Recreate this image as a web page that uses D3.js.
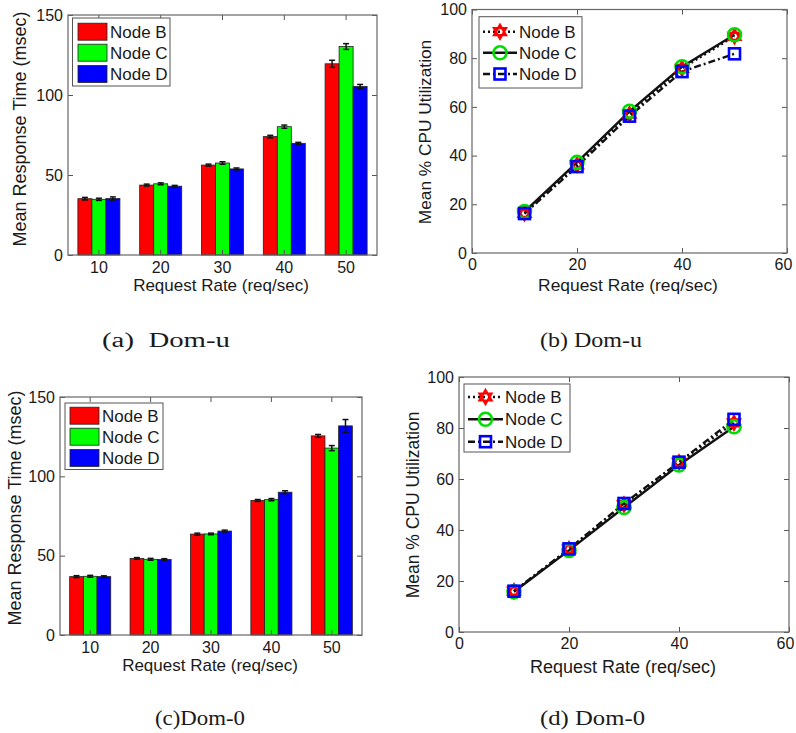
<!DOCTYPE html>
<html>
<head>
<meta charset="utf-8">
<script src="https://cdn.jsdelivr.net/npm/d3@7"></script>
<style>
  body { margin: 0; background: #fff; }
  text { font-family: "Liberation Sans", Arial, sans-serif; fill: #1a1a1a; }
  .cap { font-family: "Liberation Serif", "Times New Roman", serif; white-space: pre; }
</style>
</head>
<body>
<div id="chart"></div>
<script>
const rates = [10, 20, 30, 40, 50];
const nodes = ["Node B", "Node C", "Node D"];

// (a) Dom-u mean response time (msec)
const respDomU_B = [35.2, 43.7, 56.2, 74.0, 119.5];
const respDomU_C = [34.8, 44.5, 57.5, 80.2, 130.3];
const respDomU_D = [35.3, 43.0, 53.8, 69.8, 105.3];
const errDomU_B = [0.8, 0.6, 0.6, 0.8, 2.2];
const errDomU_C = [0.7, 0.6, 0.8, 1.0, 1.8];
const errDomU_D = [1.0, 0.5, 0.6, 0.6, 1.3];

// (b) Dom-u mean % CPU
const cpuDomU_B = [16.3, 36.2, 57.0, 75.8, 89.0];
const cpuDomU_C = [17.0, 37.2, 58.2, 76.5, 89.6];
const cpuDomU_D = [16.2, 35.5, 56.2, 74.5, 81.8];

// (c) Dom-0 mean response time (msec)
const respDom0_B = [36.8, 48.3, 63.6, 84.8, 125.5];
const respDom0_C = [37.0, 47.7, 63.7, 85.3, 117.8];
const respDom0_D = [36.8, 47.6, 65.5, 90.0, 131.8];
const errDom0_B = [0.6, 0.5, 0.6, 0.6, 0.9];
const errDom0_C = [0.6, 0.6, 0.5, 0.7, 1.6];
const errDom0_D = [0.5, 0.5, 0.6, 0.9, 4.0];

// (d) Dom-0 mean % CPU
const cpuDom0_B = [16.0, 32.5, 50.0, 66.5, 82.0];
const cpuDom0_C = [15.8, 32.0, 48.8, 65.5, 80.5];
const cpuDom0_D = [16.0, 32.6, 50.4, 66.6, 83.4];

const respTicks = [0, 50, 100, 150];
const cpuTicks = [0, 20, 40, 60, 80, 100];
const rateTicks = [0, 20, 40, 60];

const barColors = ["#ff0000", "#00ff00", "#0000ff"];
const markColors = ["#ff0000", "#00dd00", "#0000ff"];
const dashes = ["2,3", null, "7,3,2,3"];

const width = 796, height = 733;
const svg = d3.select("#chart").append("svg")
  .attr("width", width).attr("height", height)
  .style("background", "#fff");

function frame(g, box, x, y, xTicks, yTicks, xPad) {
  const bottom = d3.axisBottom(x).tickSize(-5).tickPadding(xPad);
  const left = d3.axisLeft(y).tickValues(yTicks).tickSize(-5).tickPadding(5);
  if (xTicks) bottom.tickValues(xTicks);
  const bx = g.append("g").attr("transform", `translate(0,${box.y1})`).call(bottom);
  g.append("g").attr("transform", `translate(${box.x0},0)`).call(left);
  const top = d3.axisTop(x).tickSize(-5).tickFormat("");
  if (xTicks) top.tickValues(xTicks);
  g.append("g").attr("transform", `translate(0,${box.y0})`).call(top);
  g.append("g").attr("transform", `translate(${box.x1},0)`)
    .call(d3.axisRight(y).tickValues(yTicks).tickSize(-5).tickFormat(""));
  g.selectAll(".domain").remove();
  g.selectAll(".tick line").attr("stroke", "#555");
  g.selectAll(".tick text").style("font-size", "16px").attr("fill", "#1a1a1a");
  // keep a label sitting on the page's right edge inside the window
  if (box.x1 > 780) {
    const last = bx.selectAll(".tick").nodes().slice(-1)[0];
    d3.select(last).select("text").attr("text-anchor", "end").attr("dx", "0.3em");
  }
}

function labels(g, box, xl, yl) {
  g.append("text").attr("x", xl.x).attr("y", xl.y)
    .attr("text-anchor", "middle").style("font-size", xl.size + "px")
    .text("Request Rate (req/sec)");
  g.append("text").attr("transform", `translate(${yl.x},${yl.y}) rotate(-90)`)
    .attr("text-anchor", "middle").attr("dy", "0.35em").style("font-size", yl.size + "px")
    .text(yl.text);
  g.append("rect").attr("x", box.x0).attr("y", box.y0)
    .attr("width", box.x1 - box.x0).attr("height", box.y1 - box.y0)
    .attr("fill", "none").attr("stroke", "#666").attr("stroke-width", 1.2);
}

function caption(cap) {
  svg.append("text").attr("class", "cap")
    .attr("x", cap.x).attr("y", cap.y)
    .attr("textLength", cap.w).attr("lengthAdjust", "spacingAndGlyphs")
    .style("font-size", "20px").text(cap.text);
}

function barPanel(box, series, errs, leg, xl, yl, cap) {
  const g = svg.append("g");
  const x = d3.scaleBand().domain(rates).range([box.x0, box.x1])
    .paddingInner(0.32).paddingOuter(0.16);
  const sub = d3.scaleBand().domain(nodes).range([0, x.bandwidth()]);
  const y = d3.scaleLinear().domain([0, 150]).range([box.y1, box.y0]);

  nodes.forEach((n, i) => {
    const rows = rates.map((r, j) => ({ r, v: series[i][j], e: errs[i][j] }));
    const s = g.append("g");
    s.selectAll("rect").data(rows).join("rect")
      .attr("x", d => x(d.r) + sub(n))
      .attr("y", d => y(d.v))
      .attr("width", sub.bandwidth())
      .attr("height", d => y(0) - y(d.v))
      .attr("fill", barColors[i]).attr("stroke", "#222").attr("stroke-width", 0.8);
    const eb = s.selectAll("g.err").data(rows).join("g").attr("class", "err")
      .attr("transform", d => `translate(${x(d.r) + sub(n) + sub.bandwidth() / 2},0)`);
    eb.append("line").attr("y1", d => y(d.v - d.e)).attr("y2", d => y(d.v + d.e))
      .attr("stroke", "#111").attr("stroke-width", 1.5);
    eb.append("line").attr("x1", -3).attr("x2", 3)
      .attr("y1", d => y(d.v + d.e)).attr("y2", d => y(d.v + d.e))
      .attr("stroke", "#111").attr("stroke-width", 1.5);
    eb.append("line").attr("x1", -3).attr("x2", 3)
      .attr("y1", d => y(d.v - d.e)).attr("y2", d => y(d.v - d.e))
      .attr("stroke", "#111").attr("stroke-width", 1.5);
  });

  frame(g, box, x, y, null, respTicks, 7);
  labels(g, box, xl, yl);

  // legend
  const lg = g.append("g");
  lg.append("rect").attr("x", leg.x0).attr("y", leg.y0)
    .attr("width", leg.x1 - leg.x0).attr("height", leg.y1 - leg.y0)
    .attr("fill", "#fff").attr("stroke", "#555");
  nodes.forEach((n, i) => {
    const cy = leg.rows[i];
    lg.append("rect").attr("x", leg.px).attr("y", cy - 8.5)
      .attr("width", 29).attr("height", 17)
      .attr("fill", barColors[i]).attr("stroke", "#222").attr("stroke-width", 0.8);
    lg.append("text").attr("x", leg.px + 32).attr("y", cy).attr("dy", "0.36em")
      .style("font-size", "17px").text(n);
  });
  caption(cap);
}

function hexagram(r) {
  const pts = k => d3.range(3).map(j => {
    const a = -Math.PI / 2 + k * Math.PI / 3 + j * 2 * Math.PI / 3;
    return [r * Math.cos(a), r * Math.sin(a)];
  });
  const p = arr => "M" + arr.map(q => q.join(",")).join("L") + "Z";
  return p(pts(0)) + p(pts(1));
}

function marker(sel, i) {
  if (i === 0) {
    sel.append("path").attr("d", hexagram(7))
      .attr("fill", "none").attr("stroke", markColors[0]).attr("stroke-width", 2.2);
  } else if (i === 1) {
    sel.append("circle").attr("r", 6.5)
      .attr("fill", "none").attr("stroke", markColors[1]).attr("stroke-width", 2.6);
  } else {
    sel.append("rect").attr("x", -5.5).attr("y", -5.5).attr("width", 11).attr("height", 11)
      .attr("fill", "none").attr("stroke", markColors[2]).attr("stroke-width", 2.6);
  }
}

function linePanel(box, series, leg, xl, yl, cap) {
  const g = svg.append("g");
  const x = d3.scaleLinear().domain([0, 60]).range([box.x0, box.x1]);
  const y = d3.scaleLinear().domain([0, 100]).range([box.y1, box.y0]);
  const line = d3.line().x(d => x(d.r)).y(d => y(d.v));

  nodes.forEach((n, i) => {
    const rows = rates.map((r, j) => ({ r, v: series[i][j] }));
    g.append("path").datum(rows).attr("d", line)
      .attr("fill", "none").attr("stroke", "#111").attr("stroke-width", 2.4)
      .attr("stroke-dasharray", dashes[i]);
  });
  nodes.forEach((n, i) => {
    const rows = rates.map((r, j) => ({ r, v: series[i][j] }));
    g.append("g").selectAll("g").data(rows).join("g")
      .attr("transform", d => `translate(${x(d.r)},${y(d.v)})`)
      .each(function () { marker(d3.select(this), i); });
  });

  frame(g, box, x, y, rateTicks, cpuTicks, 6);
  labels(g, box, xl, yl);

  const lg = g.append("g");
  lg.append("rect").attr("x", leg.x0).attr("y", leg.y0)
    .attr("width", leg.x1 - leg.x0).attr("height", leg.y1 - leg.y0)
    .attr("fill", "#fff").attr("stroke", "#555");
  nodes.forEach((n, i) => {
    const cy = leg.rows[i];
    lg.append("line").attr("x1", leg.lx0).attr("x2", leg.lx1).attr("y1", cy).attr("y2", cy)
      .attr("stroke", "#111").attr("stroke-width", 2.4).attr("stroke-dasharray", dashes[i]);
    marker(lg.append("g").attr("transform", `translate(${(leg.lx0 + leg.lx1) / 2},${cy})`), i);
    lg.append("text").attr("x", leg.lx1 + 2).attr("y", cy).attr("dy", "0.36em")
      .style("font-size", "17px").text(n);
  });
  caption(cap);
}

barPanel({ x0: 68, y0: 15, x1: 377, y1: 255 },
  [respDomU_B, respDomU_C, respDomU_D], [errDomU_B, errDomU_C, errDomU_D],
  { x0: 72.5, y0: 18, x1: 170, y1: 86, px: 78, rows: [31.7, 52.7, 74] },
  { x: 221, y: 291, size: 17 }, { x: 20, y: 129, size: 18, text: "Mean Response Time (msec)" },
  { x: 102, y: 347, w: 128, text: "(a)  Dom-u" });

linePanel({ x0: 472, y0: 9.5, x1: 787, y1: 253 },
  [cpuDomU_B, cpuDomU_C, cpuDomU_D],
  { x0: 479, y0: 16.7, x1: 582, y1: 88, lx0: 483, lx1: 517, rows: [31.7, 52.7, 74] },
  { x: 628, y: 291, size: 17.4 }, { x: 425, y: 132, size: 17.3, text: "Mean % CPU Utilization" },
  { x: 540, y: 347, w: 102, text: "(b) Dom-u" });

barPanel({ x0: 60, y0: 397, x1: 362, y1: 635 },
  [respDom0_B, respDom0_C, respDom0_D], [errDom0_B, errDom0_C, errDom0_D],
  { x0: 65, y0: 403, x1: 163, y1: 469.5, px: 70, rows: [415.7, 436.7, 458] },
  { x: 210, y: 671, size: 17 }, { x: 15, y: 508, size: 18, text: "Mean Response Time (msec)" },
  { x: 155, y: 725, w: 90, text: "(c)Dom-0" });

linePanel({ x0: 459, y0: 377, x1: 789, y1: 632 },
  [cpuDom0_B, cpuDom0_C, cpuDom0_D],
  { x0: 464, y0: 384, x1: 570, y1: 452, lx0: 468, lx1: 503, rows: [397, 419.3, 441.7] },
  { x: 623, y: 673, size: 18 }, { x: 413, y: 505, size: 17.5, text: "Mean % CPU Utilization" },
  { x: 540, y: 725, w: 105, text: "(d) Dom-0" });
</script>
</body>
</html>
